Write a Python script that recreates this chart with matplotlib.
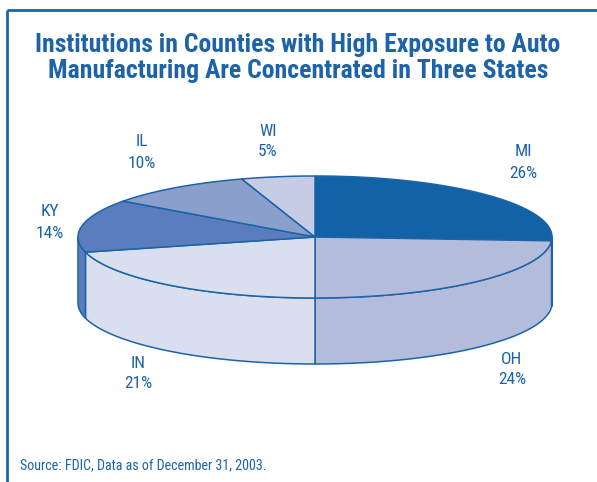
import numpy as np
import matplotlib
matplotlib.use("Agg")
import matplotlib.pyplot as plt
from matplotlib.patches import Polygon

#%% data

states = ["MI", "OH", "IN", "KY", "IL", "WI"]
shares = [26, 24, 21, 14, 10, 5]
colors = ["#1262a8", "#b4bcdb", "#dadfef", "#5a7dbd", "#8a9fcc", "#c6cce6"]

title = "Institutions in Counties with High Exposure to Auto\nManufacturing Are Concentrated in Three States"
source = "Source: FDIC, Data as of December 31, 2003."

#%% layout

blue = "#1c63a9"
font = ["Roboto Condensed", "DejaVu Sans"]
cx, cy = 315, 237      # centre of top face (pixels)
rx, ry = 237, 61       # radii of top ellipse
depth = 66             # height of the pie wall
label_pos = [(523, 152), (512, 359), (138, 363), (50, 212), (142, 142), (268, 131)]

fig = plt.figure(figsize=(5.97, 4.82), dpi=100)
ax = fig.add_axes([0, 0, 1, 1])
ax.set_xlim(0, 597)
ax.set_ylim(482, 0)
ax.axis("off")

# frame: top and left lines only
ax.plot([7, 597], [10, 10], color=blue, lw=2, solid_capstyle="butt")
ax.plot([7, 7], [10, 482], color=blue, lw=2, solid_capstyle="butt")


def pt(theta, drop=0):
    t = np.radians(theta)
    return cx + rx * np.cos(t), cy - ry * np.sin(t) + drop


# wedge angles, clockwise from 12 o'clock
bounds = 90 - 360 * np.cumsum([0] + shares) / sum(shares)

# walls first (only the front half, angles -180..0)
for i in range(len(states)):
    a0, a1 = bounds[i], bounds[i + 1]
    lo, hi = max(a1, -180), min(a0, 0)
    if lo >= hi:
        continue
    th = np.linspace(hi, lo, 80)
    top = [pt(t) for t in th]
    bot = [pt(t, depth) for t in th[::-1]]
    ax.add_patch(Polygon(top + bot, closed=True, facecolor=colors[i],
                         edgecolor=blue, lw=1.1, joinstyle="round"))

# top faces
for i in range(len(states)):
    a0, a1 = bounds[i], bounds[i + 1]
    th = np.linspace(a0, a1, 120)
    verts = [(cx, cy)] + [pt(t) for t in th]
    ax.add_patch(Polygon(verts, closed=True, facecolor=colors[i],
                         edgecolor=blue, lw=1.1, joinstyle="round"))

# labels
for i, s in enumerate(states):
    x, y = label_pos[i]
    ax.text(x, y, s, color=blue, fontsize=12.5, family=font, ha="center", va="center")
    ax.text(x, y + 21, f"{shares[i]}%", color=blue, fontsize=12.5, family=font,
            ha="center", va="center")

ax.text(298, 58, title, color=blue, fontsize=18.5, family=font, weight="bold",
        ha="center", va="center", linespacing=1.12)
ax.text(20, 465, source, color=blue, fontsize=10.1, family=font, ha="left", va="center")

fig.savefig("out.png", dpi=100)
